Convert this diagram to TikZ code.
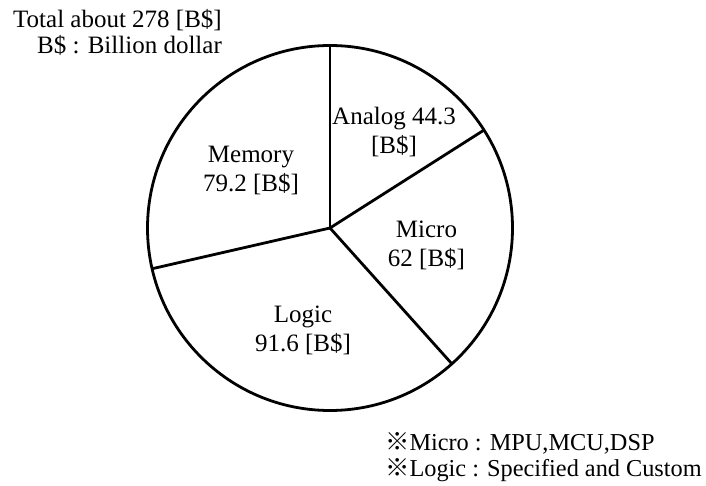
\documentclass[tikz,border=0pt]{standalone}
\usepackage{fontspec}
\setmainfont{Liberation Serif}
\newfontfamily\cjk{Noto Sans CJK JP}
\usetikzlibrary{calc}
\begin{document}
\begin{tikzpicture}[x=1pt,y=-1pt,
  pieline/.style={line width=2.8pt,line join=round},
  lbl/.style={align=center,inner sep=0pt,font=\fontsize{25}{29}\selectfont},
  note/.style={inner sep=0pt,font=\fontsize{25}{26.5}\selectfont},
  foot/.style={inner sep=0pt,font=\fontsize{24.3}{26.7}\selectfont}]
\useasboundingbox (0,0) rectangle (706,486);
\coordinate (c) at (330,228);
\def\R{182.5}
\coordinate (p1) at ($(c)+(-90:\R)$);
\coordinate (p2) at ($(c)+(-32.45:\R)$);
\coordinate (p3) at ($(c)+(48.10:\R)$);
\coordinate (p4) at ($(c)+(167.10:\R)$);
\draw[pieline] (c) circle (\R);
\draw[pieline] (c) -- (p1);
\draw[pieline] (c) -- (p2);
\draw[pieline] (c) -- (p3);
\draw[pieline] (c) -- (p4);
\node[lbl] (analog) at (394,132.5) {Analog 44.3\\{}[B\$]};
\node[lbl] (memory) at (251,170.4) {Memory\\79.2 [B\$]};
\node[lbl] (micro) at (426.5,245.4) {Micro\\62 [B\$]};
\node[lbl] (logic) at (303,330.7) {Logic\\91.6 [B\$]};
\node[note,align=right,anchor=east] (title) at (222,32.3) {Total about 278 [B\$]\\B\$ : Billion dollar};
\node[foot,align=left,anchor=west] (notes) at (385,457) {{\cjk ※}Micro : MPU,MCU,DSP\\{\cjk ※}Logic : Specified and Custom};
\end{tikzpicture}
\end{document}
